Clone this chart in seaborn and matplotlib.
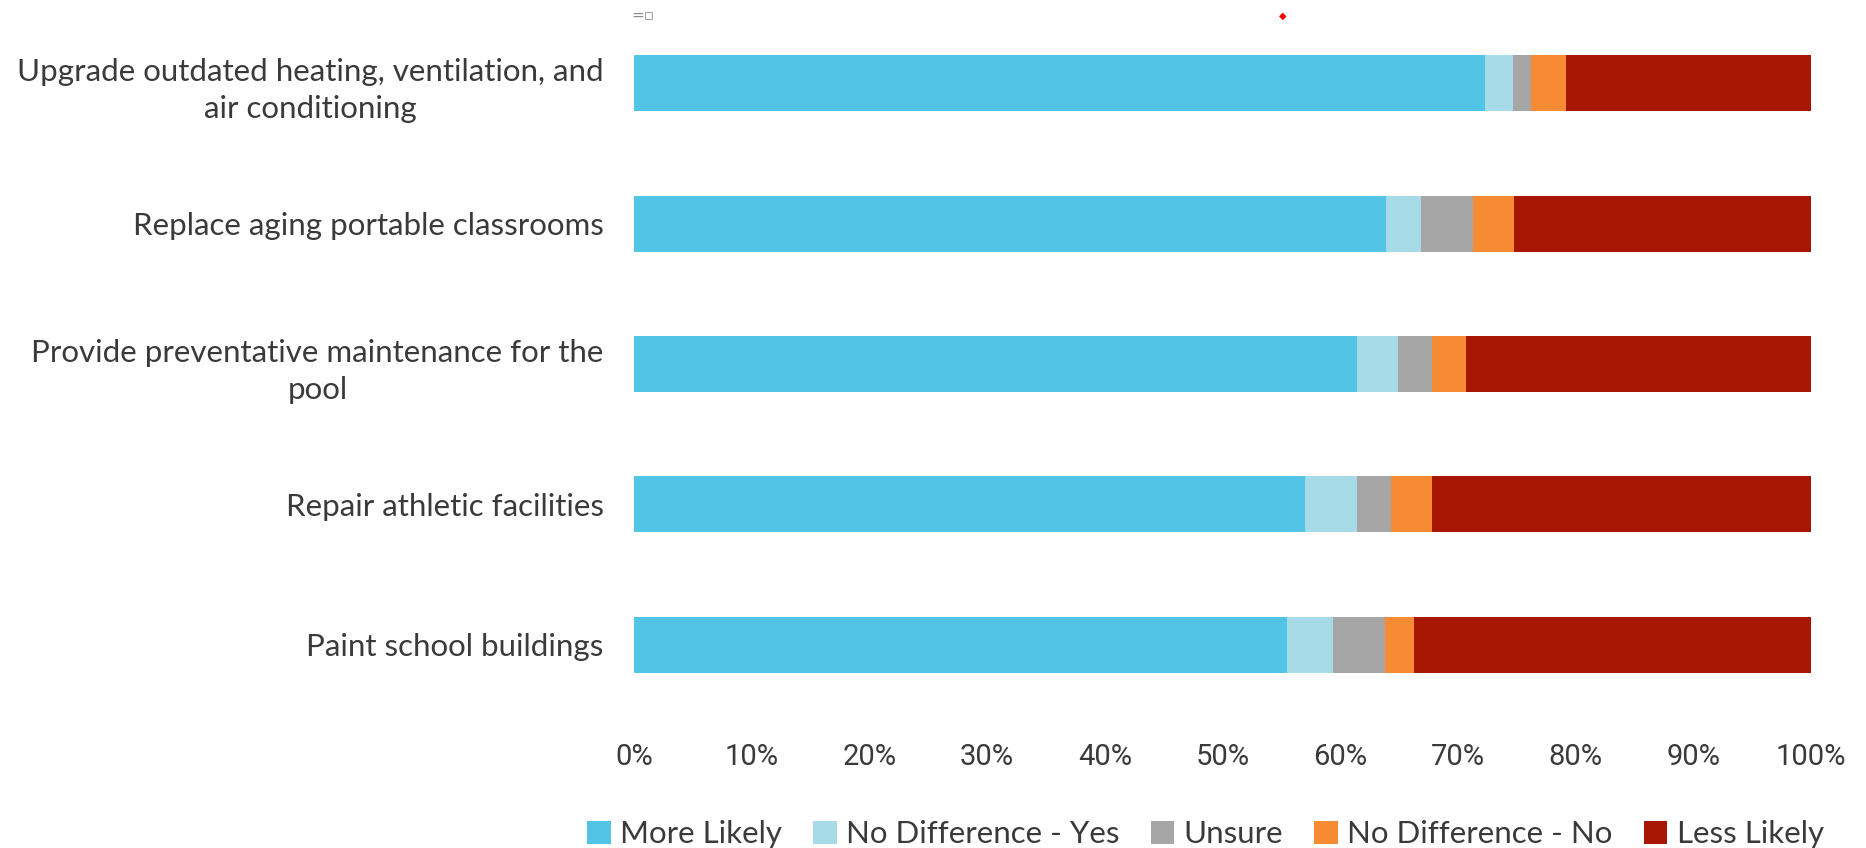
import matplotlib
matplotlib.use("Agg")
import matplotlib.pyplot as plt
from matplotlib.patches import Patch
from matplotlib.ticker import PercentFormatter
from matplotlib import font_manager
import numpy as np
import pandas as pd
import seaborn as sns

# Survey items (top to bottom)
projects = [
    "Upgrade outdated heating, ventilation, and\nair conditioning",
    "Replace aging portable classrooms",
    "Provide preventative maintenance for the\npool",
    "Repair athletic facilities",
    "Paint school buildings",
]
responses = ["More Likely", "No Difference - Yes", "Unsure", "No Difference - No", "Less Likely"]

# Share of respondents (%) per response
more_likely = [72.3, 63.9, 61.4, 57.0, 55.5]
no_diff_yes = [2.4, 3.0, 3.5, 4.4, 3.9]
unsure = [1.5, 4.4, 2.9, 2.9, 4.4]
no_diff_no = [3.0, 3.5, 2.9, 3.5, 2.5]
less_likely = [20.8, 25.2, 29.3, 32.2, 33.7]

x_ticks = [0, 10, 20, 30, 40, 50, 60, 70, 80, 90, 100]

colors = ["#52C5E7", "#A7DBE8", "#A6A6A6", "#F78B34", "#A61600"]

series = [more_likely, no_diff_yes, unsure, no_diff_no, less_likely]
shares = np.array(series)
cum = np.cumsum(shares, axis=0)
cum = cum / cum[-1] * 100.0

sns.set_theme(style="white")
plt.rcParams["font.family"] = ["Lato", "DejaVu Sans"]
text_color = "#3a3a3a"

# Narrow face for the percentage ticks, if available
installed = {f.name for f in font_manager.fontManager.ttflist}
tick_family = "Liberation Sans Narrow" if "Liberation Sans Narrow" in installed else "Roboto"

fig = plt.figure(figsize=(18.66, 8.48), dpi=100)
ax = fig.add_axes([0.3398, 0.1568, 0.6307, 0.8279])

# Stacked bars: draw the cumulative totals from the widest layer down
for i in range(len(responses) - 1, -1, -1):
    df = pd.DataFrame({"project": projects, "value": cum[i]})
    sns.barplot(data=df, x="value", y="project", orient="h", color=colors[i],
                saturation=1, width=0.4, ax=ax, edgecolor="none", linewidth=0)

ax.set_xlim(0, 100)
ax.set_ylim(len(projects) - 0.5, -0.5)
ax.set_xticks(x_ticks)
ax.xaxis.set_major_formatter(PercentFormatter(decimals=0))
ax.set_xlabel("")
ax.set_ylabel("")
for s in ax.spines.values():
    s.set_visible(False)
ax.tick_params(axis="both", length=0)
ax.tick_params(axis="x", pad=20, labelsize=21, labelcolor=text_color)
ax.tick_params(axis="y", pad=22, labelsize=22.5, labelcolor=text_color)
for lab in ax.get_yticklabels():
    lab.set_multialignment("center")
    lab.set_linespacing(1.4)
for lab in ax.get_xticklabels():
    lab.set_family(tick_family)

handles = [Patch(facecolor=c, edgecolor="none", label=r) for c, r in zip(colors, responses)]
fig.legend(handles=handles, loc="center", bbox_to_anchor=(0.646, 0.016), ncol=5,
           frameon=False, fontsize=22.5, handlelength=0.75, handleheight=0.75,
           handletextpad=0.3, columnspacing=1.0, labelcolor=text_color)

# Small header glyphs above the chart
fig.text(0.3385, 0.981, "=\u25ab", fontsize=11, color="#8c8c8c", ha="left", va="center",
         family=["DejaVu Sans"])
fig.text(0.6875, 0.981, "\u25c6", fontsize=7, color="#ff0000", ha="center", va="center",
         family=["DejaVu Sans"])

fig.savefig("out.png", dpi=100, facecolor="white")
